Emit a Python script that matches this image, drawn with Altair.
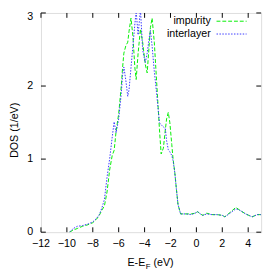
import altair as alt
import pandas as pd

# Energy grid (eV, relative to E_F)
energy = [-9.8, -9.5, -9.2, -8.8, -8.4, -8.0, -7.7, -7.5, -7.3, -7.1, -6.9, -6.7,
          -6.5, -6.35, -6.2, -6.0, -5.8, -5.7, -5.6, -5.45, -5.3, -5.2, -5.05,
          -4.9, -4.75, -4.65, -4.5, -4.32, -4.15, -3.95, -3.8, -3.65, -3.55,
          -3.42, -3.25, -3.1, -2.95, -2.85, -2.72, -2.55, -2.4, -2.3, -2.17,
          -2.05, -1.9, -1.8, -1.67, -1.55, -1.42, -1.22, -0.8, -0.4, -0.1, 0.1,
          0.3, 0.5, 0.8, 1.2, 1.6, 2.0, 2.2, 2.6, 3.05, 3.35, 3.8, 4.3, 4.7, 5.0]

impurity = [0.0, 0.03, 0.05, 0.08, 0.10, 0.13, 0.18, 0.23, 0.30, 0.36, 0.55, 0.85,
            1.05, 1.12, 1.38, 1.62, 2.00, 2.25, 2.45, 2.55, 2.60, 2.75, 2.93,
            2.68, 2.25, 2.09, 2.45, 2.78, 2.60, 2.30, 2.18, 2.55, 2.80,
            2.93, 2.60, 2.15, 1.70, 1.40, 1.07, 1.15, 1.40, 1.55, 1.64,
            1.50, 1.20, 1.00, 0.82, 0.60, 0.38, 0.25, 0.25, 0.25, 0.26, 0.28,
            0.25, 0.23, 0.26, 0.24, 0.24, 0.23, 0.21, 0.27, 0.34, 0.30, 0.25, 0.21, 0.24, 0.24]

interlayer = [0.0, 0.05, 0.08, 0.09, 0.11, 0.14, 0.19, 0.24, 0.33, 0.45, 0.75, 1.00,
              1.30, 1.51, 1.36, 1.55, 1.90, 2.15, 2.26, 2.08, 1.86, 1.95, 2.25,
              2.55, 2.85, 3.02, 2.70, 3.05, 2.50, 2.32, 2.45, 2.65, 2.76,
              2.55, 2.20, 1.95, 1.68, 1.50, 1.47, 1.44, 1.42, 1.25, 1.13,
              1.10, 1.05, 0.98, 0.82, 0.60, 0.38, 0.25, 0.25, 0.24, 0.26, 0.28,
              0.25, 0.23, 0.25, 0.24, 0.24, 0.23, 0.21, 0.26, 0.32, 0.30, 0.25, 0.21, 0.24, 0.24]

x_ticks = [-12, -10, -8, -6, -4, -2, 0, 2, 4]
y_ticks = [0, 1, 2, 3]
legend_labels = ["impurity", "interlayer"]

W, H = 227, 226
FONT = "Liberation Sans"
GREEN = "#00ee00"
BLUE = "#3535ff"

df = pd.DataFrame({"E": energy, "impurity": impurity, "interlayer": interlayer})
xt = pd.DataFrame({"t": x_ticks})
yt_low = pd.DataFrame({"t": y_ticks[:-1]})
yt_top = pd.DataFrame({"t": y_ticks[-1:]})
yt = pd.DataFrame({"t": y_ticks})

xscale = alt.Scale(domain=[-12, 5], nice=False, zero=False)
yscale = alt.Scale(domain=[0, 3], nice=False)

base = alt.Chart(df)
green = base.mark_line(color=GREEN, strokeDash=[4, 2], strokeWidth=1, clip=True).encode(
    x=alt.X("E:Q", scale=xscale, axis=None),
    y=alt.Y("impurity:Q", scale=yscale, axis=None),
)
blue = base.mark_line(color=BLUE, strokeDash=[1.5, 1.5], strokeWidth=1, clip=True).encode(
    x=alt.X("E:Q", scale=xscale, axis=None),
    y=alt.Y("interlayer:Q", scale=yscale, axis=None),
)

tick_style = dict(color="black", strokeWidth=1)
bt = alt.Chart(xt).mark_rule(**tick_style).encode(
    x=alt.X("t:Q", scale=xscale, axis=None), y=alt.value(H), y2=alt.value(H - 5))
tt = alt.Chart(xt).mark_rule(**tick_style).encode(
    x=alt.X("t:Q", scale=xscale, axis=None), y=alt.value(0), y2=alt.value(5))
lt = alt.Chart(yt).mark_rule(**tick_style).encode(
    y=alt.Y("t:Q", scale=yscale, axis=None), x=alt.value(0), x2=alt.value(5))
rt = alt.Chart(yt).mark_rule(**tick_style).encode(
    y=alt.Y("t:Q", scale=yscale, axis=None), x=alt.value(W), x2=alt.value(W - 5))

# tick labels
xlab = alt.Chart(xt).mark_text(font=FONT, fontSize=11, align="center",
                               baseline="middle", color="black").encode(
    x=alt.X("t:Q", scale=xscale, axis=None), text="t:Q", y=alt.value(H + 12))
ylab_low = alt.Chart(yt_low).mark_text(font=FONT, fontSize=11, align="right",
                                       baseline="middle", color="black").encode(
    y=alt.Y("t:Q", scale=yscale, axis=None), text="t:Q", x=alt.value(-8))
ylab_top = alt.Chart(yt_top).mark_text(font=FONT, fontSize=11, align="right",
                                       baseline="middle", color="black", dy=4.5).encode(
    y=alt.Y("t:Q", scale=yscale, axis=None), text="t:Q", x=alt.value(-8))

# legend (gnuplot style: text right-aligned, sample to the right)
leg_text1 = alt.Chart(pd.DataFrame({"l": [legend_labels[0]]})).mark_text(
    font=FONT, fontSize=11, align="right", baseline="middle", color="black").encode(
    text="l:N", x=alt.value(175), y=alt.value(8.5))
leg_text2 = alt.Chart(pd.DataFrame({"l": [legend_labels[1]]})).mark_text(
    font=FONT, fontSize=11, align="right", baseline="middle", color="black").encode(
    text="l:N", x=alt.value(175), y=alt.value(21.5))
leg_line1 = alt.Chart(pd.DataFrame({"l": [legend_labels[0]]})).mark_rule(
    color=GREEN, strokeDash=[4, 2], strokeWidth=1).encode(
    x=alt.value(181), x2=alt.value(212), y=alt.value(8.5))
leg_line2 = alt.Chart(pd.DataFrame({"l": [legend_labels[1]]})).mark_rule(
    color=BLUE, strokeDash=[1.5, 1.5], strokeWidth=1).encode(
    x=alt.value(181), x2=alt.value(212), y=alt.value(21.7))

# axis titles
one = pd.DataFrame({"a": [0]})
ytitle = alt.Chart(one).mark_text(font=FONT, fontSize=11, angle=270, align="center",
                                  baseline="middle", color="black", text="DOS (1/eV)").encode(
    x=alt.value(-27), y=alt.value(121))
xt1 = alt.Chart(one).mark_text(font=FONT, fontSize=11, align="right",
                               baseline="alphabetic", color="black", text="E-E").encode(
    x=alt.value(107.5), y=alt.value(261))
xt2 = alt.Chart(one).mark_text(font=FONT, fontSize=8, align="left",
                               baseline="alphabetic", color="black", text="F").encode(
    x=alt.value(108), y=alt.value(264))
xt3 = alt.Chart(one).mark_text(font=FONT, fontSize=11, align="left",
                               baseline="alphabetic", color="black", text="(eV)").encode(
    x=alt.value(116), y=alt.value(261))

chart = alt.layer(
    green, blue, bt, tt, lt, rt, xlab, ylab_low, ylab_top,
    leg_text1, leg_text2, leg_line1, leg_line2,
    ytitle, xt1, xt2, xt3
).properties(
    width=W, height=H,
    autosize=alt.AutoSizeParams(type="none"),
    padding={"left": 34, "top": 1, "right": 5, "bottom": 39},
).configure_view(
    stroke="black", strokeWidth=1
).configure(background="white")

chart.save("out.html", embed_options={"renderer": "svg", "actions": False})
